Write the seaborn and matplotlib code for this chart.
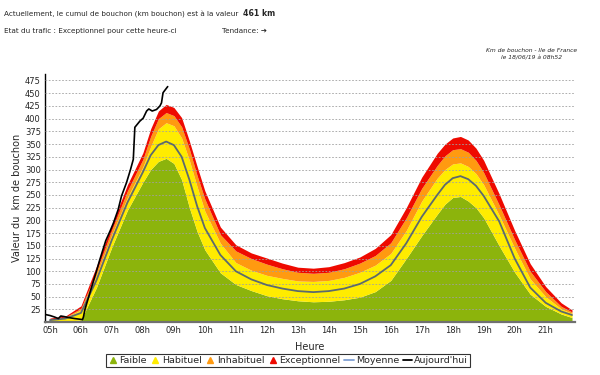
import matplotlib
matplotlib.use('Agg')
import matplotlib.pyplot as plt
from matplotlib.lines import Line2D
import seaborn as sns

# heures (en heures décimales) des profils de référence
heures = [5.0, 5.5, 6.0, 6.5, 7.0, 7.5, 8.0, 8.25, 8.5, 8.75, 9.0, 9.25, 9.5, 9.75,
          10.0, 10.5, 11.0, 11.5, 12.0, 12.5, 13.0, 13.5, 14.0, 14.5, 15.0, 15.5,
          16.0, 16.5, 17.0, 17.5, 17.75, 18.0, 18.25, 18.5, 18.75, 19.0, 19.5,
          20.0, 20.5, 21.0, 21.5, 21.85]
# limites hautes de chaque zone (km)
faible = [1, 2, 4, 68, 148, 220, 275, 300, 316, 322, 312, 280, 225, 178,
          142, 97, 74, 62, 52, 46, 42, 40, 41, 44, 49, 60,
          82, 125, 170, 212, 232, 245, 247, 238, 225, 205, 150,
          98, 55, 31, 16, 9]
habituel = [5, 9, 24, 92, 172, 245, 305, 345, 380, 392, 386, 362, 318, 266,
            218, 155, 117, 102, 92, 86, 81, 80, 82, 88, 98, 112,
            135, 180, 238, 283, 300, 311, 313, 306, 292, 270, 210,
            145, 85, 50, 26, 17]
inhabituel = [6, 10, 27, 100, 182, 258, 320, 365, 400, 412, 406, 384, 340, 288,
              242, 172, 140, 125, 114, 105, 98, 96, 98, 105, 116, 131,
              156, 205, 263, 308, 327, 339, 341, 334, 318, 294, 230,
              162, 100, 60, 31, 20]
exceptionnel = [8, 12, 32, 110, 192, 270, 333, 380, 415, 428, 422, 402, 356, 306,
                258, 187, 152, 136, 126, 116, 108, 106, 109, 117, 128, 145,
                172, 225, 285, 332, 350, 362, 365, 358, 342, 318, 252,
                180, 115, 70, 38, 24]
moyenne = [4, 7, 18, 82, 162, 235, 295, 328, 348, 355, 348, 325, 280, 228,
           185, 132, 100, 84, 73, 66, 61, 59, 61, 66, 75, 90,
           112, 155, 207, 250, 270, 283, 287, 281, 268, 248, 198,
           125, 68, 38, 21, 14]

# relevé du jour
heures_jour = [4.85, 5.0, 5.15, 5.27, 5.35, 5.45, 5.6, 5.8, 6.05, 6.08, 6.13, 6.29,
               6.5, 6.61, 6.8, 6.94, 7.05, 7.2, 7.31, 7.47, 7.6, 7.69, 7.74, 7.9,
               8.01, 8.12, 8.19, 8.3, 8.44, 8.55, 8.6, 8.65, 8.8]
aujourdhui = [15, 13, 10, 7, 12, 11, 9, 7, 5, 10, 25, 58,
              100, 123, 160, 179, 195, 221, 248, 274, 300, 320, 383, 395,
              401, 415, 419, 415, 418, 425, 431, 451, 463]

x_ticks = [5, 6, 7, 8, 9, 10, 11, 12, 13, 14, 15, 16, 17, 18, 19, 20, 21]
x_labels = ['05h', '06h', '07h', '08h', '09h', '10h', '11h', '12h', '13h',
            '14h', '15h', '16h', '17h', '18h', '19h', '20h', '21h']
y_ticks = [25, 50, 75, 100, 125, 150, 175, 200, 225, 250, 275, 300, 325, 350,
           375, 400, 425, 450, 475]

VERT = '#8cb40c'
JAUNE = '#ffec00'
ORANGE = '#ff9a10'
ROUGE = '#ee0a00'
GRIS_MOY = '#5c6a6e'

sns.set_style('white')
plt.rcParams['font.family'] = ['DejaVu Sans']

fig = plt.figure(figsize=(6, 3.75), dpi=100)
ax = fig.add_axes([0.075, 0.141, 0.883, 0.662])

ax.fill_between(heures, 0, faible, color=VERT, lw=0, zorder=1)
ax.fill_between(heures, faible, habituel, color=JAUNE, lw=0, zorder=1)
ax.fill_between(heures, habituel, inhabituel, color=ORANGE, lw=0, zorder=1)
ax.fill_between(heures, inhabituel, exceptionnel, color=ROUGE, lw=0, zorder=1)

sns.lineplot(x=heures, y=moyenne, ax=ax, color=GRIS_MOY, lw=1.3,
             sort=False, estimator=None, zorder=3)
sns.lineplot(x=heures_jour, y=aujourdhui, ax=ax, color='black', lw=1.2,
             sort=False, estimator=None, zorder=4)

ax.set_xlim(4.84, 21.94)
ax.set_ylim(0, 488)
ax.set_xticks(x_ticks)
ax.set_xticklabels(x_labels)
ax.set_yticks(y_ticks)
ax.tick_params(labelsize=6, length=0, pad=3)
ax.yaxis.grid(True, ls=(0, (2, 2)), color='#a0a0a0', lw=0.6)
ax.set_axisbelow(False)
for s in ['top', 'right']:
    ax.spines[s].set_visible(False)
ax.spines['left'].set_color('black')
ax.spines['left'].set_linewidth(1.0)
ax.spines['bottom'].set_color('#707070')
ax.spines['bottom'].set_linewidth(1.6)

ax.set_xlabel('Heure', fontsize=7, labelpad=5)
ax.set_ylabel('Valeur du  km de bouchon', fontsize=7)
ax.yaxis.set_label_coords(-0.052, 0.5)
ax.yaxis.label.set_va('center')

# en-tête
t1 = fig.text(4 / 600, 1 - 14 / 375,
              'Actuellement, le cumul de bouchon (km bouchon) est à la valeur',
              fontsize=5.2, va='center')
ax.annotate('461 km', xy=(1, 0.5), xycoords=t1, xytext=(3, 0),
            textcoords='offset points', va='center', fontsize=5.6,
            fontweight='bold')
fig.text(4 / 600, 1 - 31 / 375, 'Etat du trafic : Exceptionnel pour cette heure-ci',
         fontsize=5.2, va='center')
fig.text(222 / 600, 1 - 31 / 375, 'Tendance: ➔', fontsize=5.2, va='center')
fig.text(532 / 600, 1 - 51 / 375, 'Km de bouchon - Ile de France',
         fontsize=4.3, style='italic', ha='center', va='center')
fig.text(532 / 600, 1 - 57.5 / 375, 'le 18/06/19 à 08h52',
         fontsize=4.3, style='italic', ha='center', va='center')

handles = [
    Line2D([], [], marker='^', ls='none', color=VERT, markersize=4.5, label='Faible'),
    Line2D([], [], marker='^', ls='none', color=JAUNE, markersize=4.5, label='Habituel'),
    Line2D([], [], marker='^', ls='none', color=ORANGE, markersize=4.5, label='Inhabituel'),
    Line2D([], [], marker='^', ls='none', color=ROUGE, markersize=4.5, label='Exceptionnel'),
    Line2D([], [], color='#7f9fd3', lw=1.3, label='Moyenne'),
    Line2D([], [], color='black', lw=1.3, label="Aujourd'hui"),
]
leg = fig.legend(handles=handles, ncol=6, loc='center', bbox_to_anchor=(0.48, 0.039),
                 frameon=True, fancybox=False, edgecolor='black', fontsize=6.8,
                 handlelength=1.0, handletextpad=0.2, columnspacing=0.4,
                 borderpad=0.25, borderaxespad=0)
leg.get_frame().set_linewidth(0.8)

fig.savefig('out.png', dpi=100)
